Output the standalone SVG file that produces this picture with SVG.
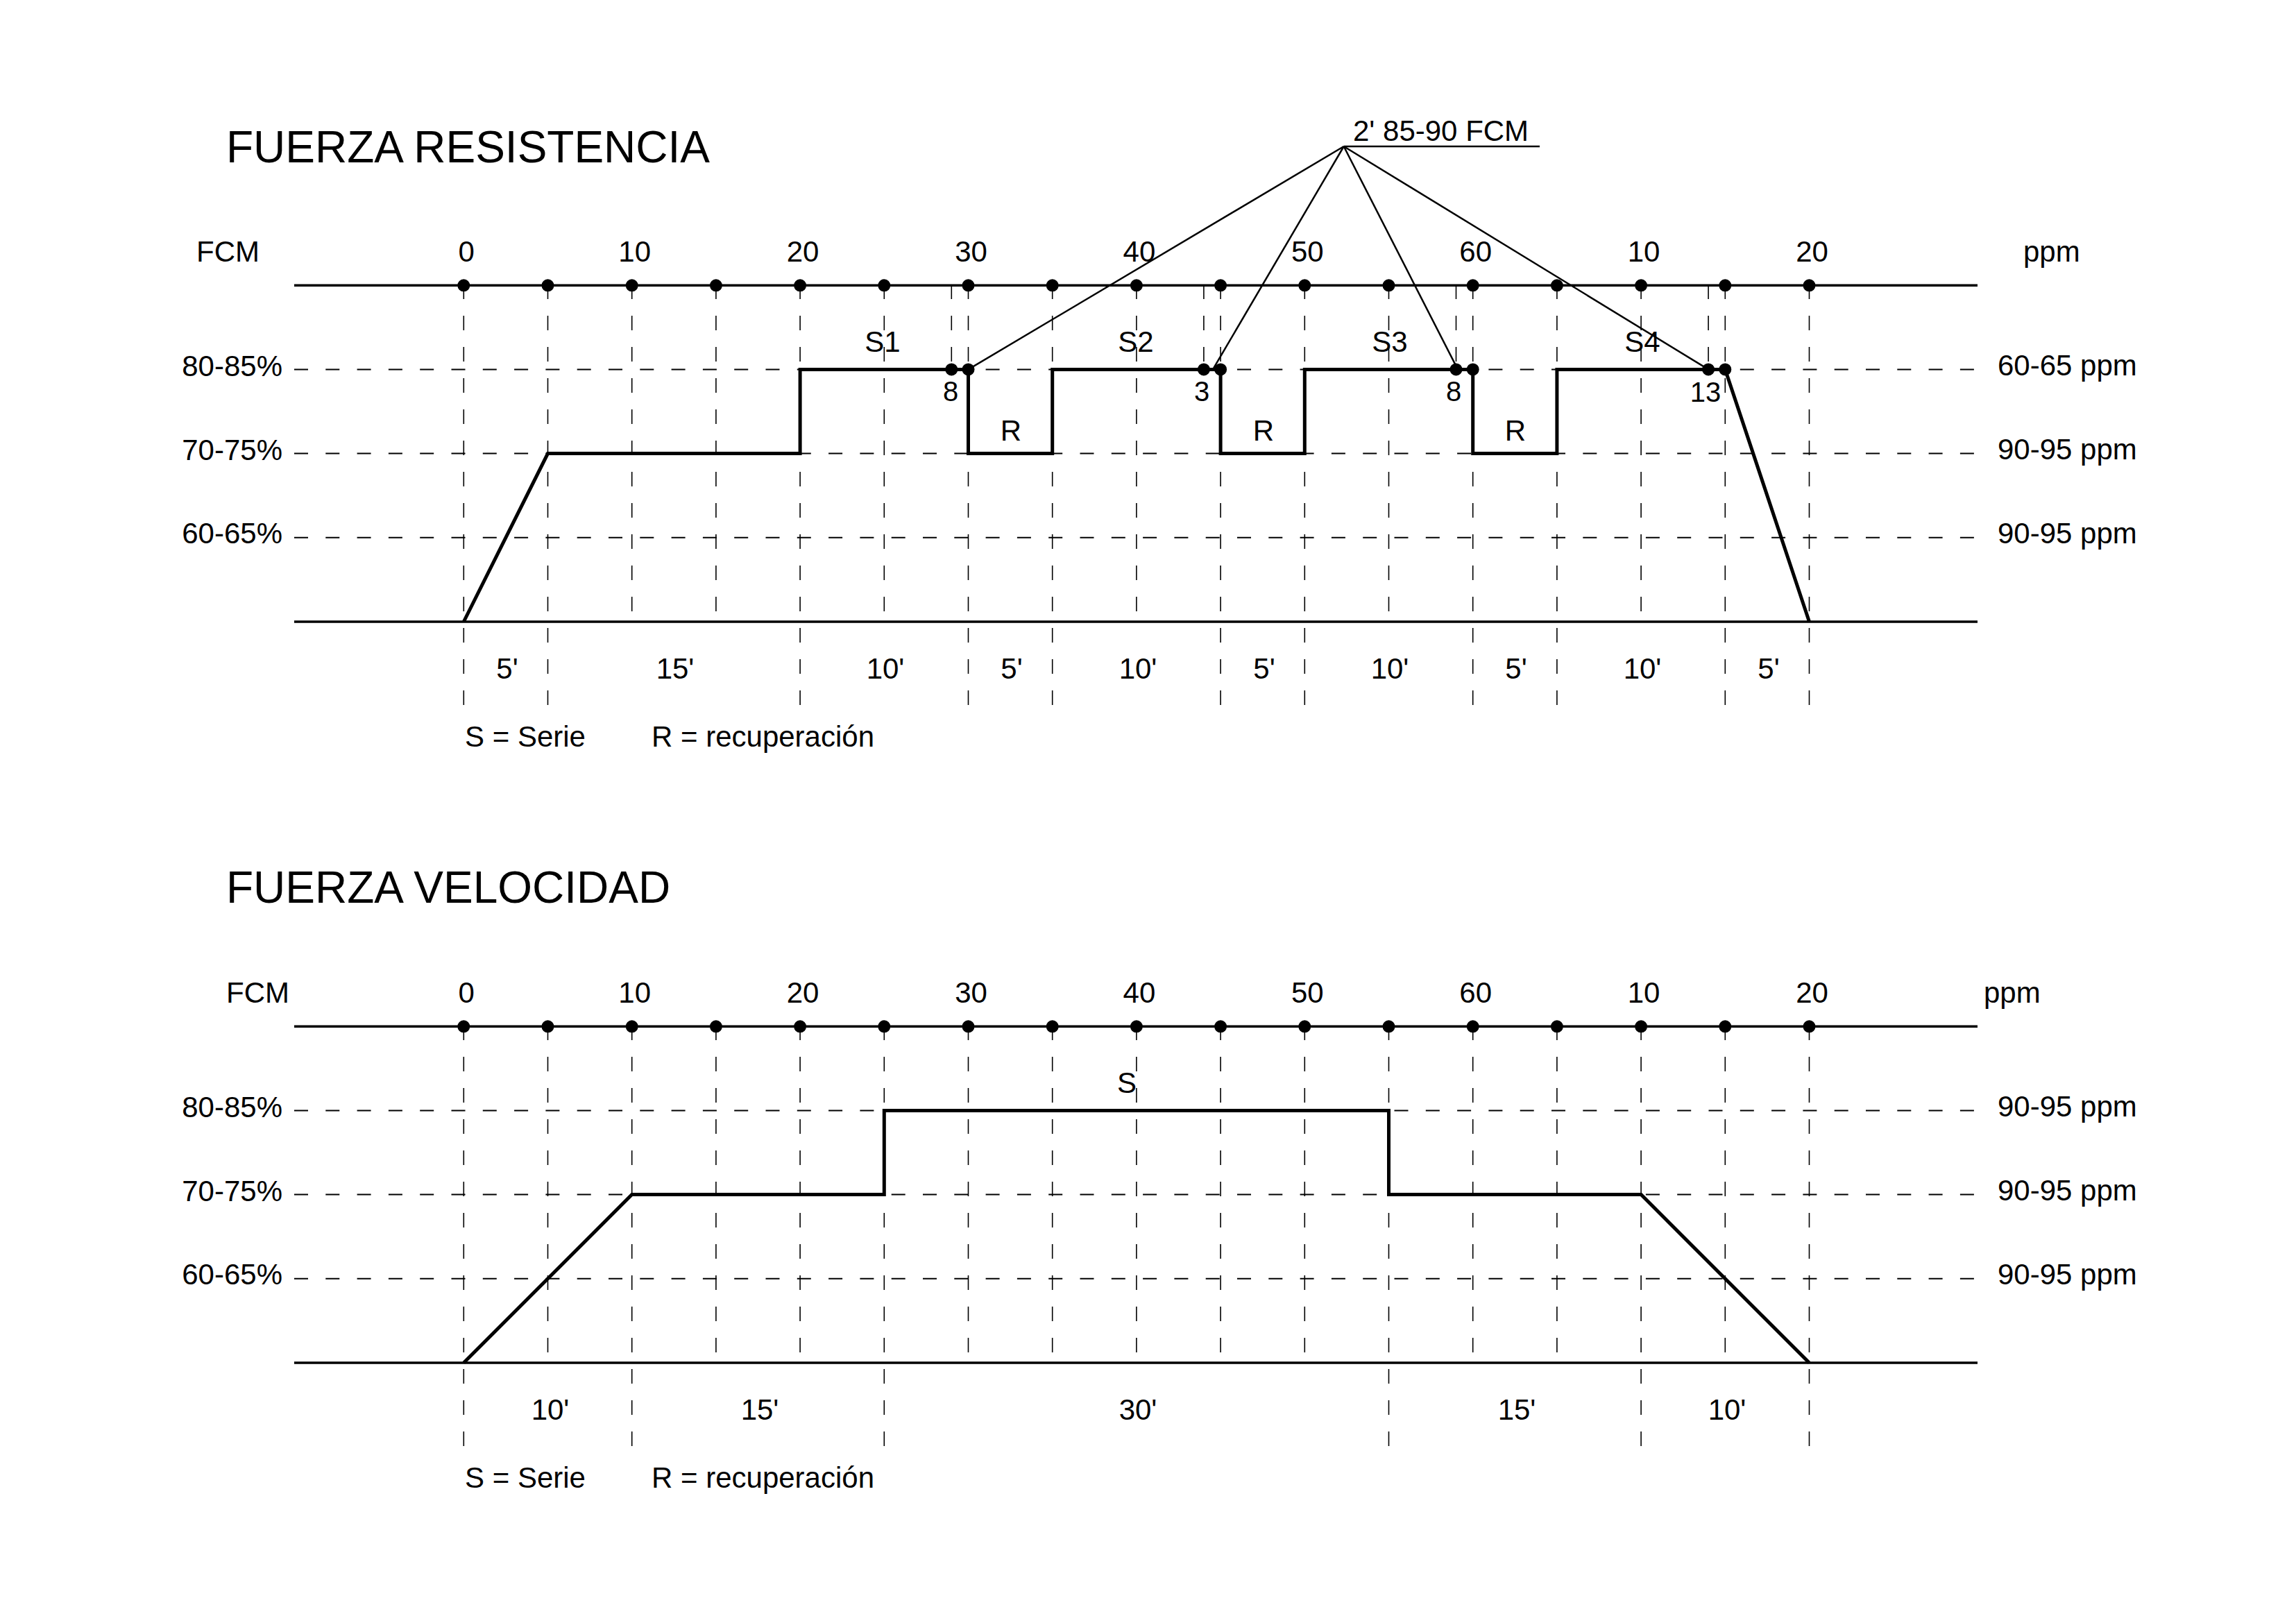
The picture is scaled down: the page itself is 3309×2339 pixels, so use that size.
<svg xmlns="http://www.w3.org/2000/svg" width="3309" height="2339" viewBox="0 0 3309 2339">
<style>
text{font-family:"Liberation Sans",Arial,Helvetica,sans-serif;fill:#000;font-size:42px}
.title{font-size:64px}
.sm{font-size:40px}
.mid{text-anchor:middle}
.end{text-anchor:end}
.axis{stroke:#000;stroke-width:3.5;fill:none}
.hd{stroke:#000;stroke-width:2;stroke-dasharray:20 25.3;fill:none}
.vd{stroke:#000;stroke-width:1.6;stroke-dasharray:21 24;fill:none}
.prof{stroke:#000;stroke-width:5;fill:none;stroke-linejoin:miter}
.lead{stroke:#000;stroke-width:2.5;fill:none}
.dot{fill:#000}
</style>
<defs>
<circle id="d" r="9" class="dot"/>
</defs>
<rect width="3309" height="2339" fill="#fff"/>

<!-- ============ CHART 1: FUERZA RESISTENCIA ============ -->
<g id="chart-resistencia">
  <text id="title1" class="title" x="326" y="234">FUERZA RESISTENCIA</text>
  <g id="grid1">
    <line class="hd" x1="424" y1="532.4" x2="2850" y2="532.4"/>
    <line class="hd" x1="424" y1="653.6" x2="2850" y2="653.6"/>
    <line class="hd" x1="424" y1="774.8" x2="2850" y2="774.8"/>
    <!-- verticals extending below baseline -->
    <path class="vd" d="M668.3,410V1018M789.5,410V1018M1153.1,410V1018M1395.5,410V1018M1516.7,410V1018M1759.1,410V1018M1880.3,410V1018M2122.7,410V1018M2243.9,410V1018M2486.3,410V1018M2607.5,410V1018"/>
    <!-- verticals ending at baseline -->
    <path class="vd" d="M910.7,410V896M1031.9,410V896M1274.3,410V896M1637.9,410V896M2001.5,410V896M2365.1,410V896"/>
    <!-- short verticals to 80-85% -->
    <path class="vd" d="M1371.3,410V532M1734.9,410V532M2098.5,410V532M2462.1,410V532"/>
  </g>
  <g id="axes1">
    <line class="axis" x1="424" y1="411.3" x2="2850" y2="411.3"/>
    <line class="axis" x1="424" y1="896" x2="2850" y2="896"/>
  </g>
  <g id="profile1">
    <path class="prof" d="M668.3,896L789.5,653.6H1153.1V532.4H1395.5V653.6H1516.7V532.4H1759.1V653.6H1880.3V532.4H2122.7V653.6H2243.9V532.4H2486.3L2607.5,896"/>
  </g>
  <g id="connectors1">
    <line class="lead" x1="1936.7" y1="211" x2="2219" y2="211"/>
    <line class="lead" x1="1936.7" y1="211" x2="1395.5" y2="532.4"/>
    <line class="lead" x1="1936.7" y1="211" x2="1748" y2="532.4"/>
    <line class="lead" x1="1936.7" y1="211" x2="2101" y2="532.4"/>
    <line class="lead" x1="1936.7" y1="211" x2="2462.1" y2="532.4"/>
  </g>
  <g id="dots1">
    <use href="#d" x="668.3" y="411.3"/><use href="#d" x="789.5" y="411.3"/><use href="#d" x="910.7" y="411.3"/><use href="#d" x="1031.9" y="411.3"/><use href="#d" x="1153.1" y="411.3"/><use href="#d" x="1274.3" y="411.3"/><use href="#d" x="1395.5" y="411.3"/><use href="#d" x="1516.7" y="411.3"/><use href="#d" x="1637.9" y="411.3"/><use href="#d" x="1759.1" y="411.3"/><use href="#d" x="1880.3" y="411.3"/><use href="#d" x="2001.5" y="411.3"/><use href="#d" x="2122.7" y="411.3"/><use href="#d" x="2243.9" y="411.3"/><use href="#d" x="2365.1" y="411.3"/><use href="#d" x="2486.3" y="411.3"/><use href="#d" x="2607.5" y="411.3"/>
    <use href="#d" x="1371.3" y="532.4"/><use href="#d" x="1395.5" y="532.4"/>
    <use href="#d" x="1734.9" y="532.4"/><use href="#d" x="1759.1" y="532.4"/>
    <use href="#d" x="2098.5" y="532.4"/><use href="#d" x="2122.7" y="532.4"/>
    <use href="#d" x="2462.1" y="532.4"/><use href="#d" x="2486.3" y="532.4"/>
  </g>
  <g id="labels1">
    <text x="1950" y="203">2' 85-90 FCM</text>
    <text x="283" y="377">FCM</text>
    <text x="2916" y="377">ppm</text>
    <text class="mid" x="672.3" y="377">0</text>
    <text class="mid" x="914.7" y="377">10</text>
    <text class="mid" x="1157.1" y="377">20</text>
    <text class="mid" x="1399.5" y="377">30</text>
    <text class="mid" x="1641.9" y="377">40</text>
    <text class="mid" x="1884.3" y="377">50</text>
    <text class="mid" x="2126.7" y="377">60</text>
    <text class="mid" x="2369.1" y="377">10</text>
    <text class="mid" x="2611.5" y="377">20</text>
    <text class="end" x="407" y="542">80-85%</text>
    <text class="end" x="407" y="663">70-75%</text>
    <text class="end" x="407" y="783">60-65%</text>
    <text x="2879" y="541">60-65 ppm</text>
    <text x="2879" y="662">90-95 ppm</text>
    <text x="2879" y="783">90-95 ppm</text>
    <text class="mid" x="1272" y="507">S1</text>
    <text class="mid" x="1637" y="507">S2</text>
    <text class="mid" x="2003" y="507">S3</text>
    <text class="mid" x="2367" y="507">S4</text>
    <text class="mid" x="1457" y="635">R</text>
    <text class="mid" x="1821" y="635">R</text>
    <text class="mid" x="2184" y="635">R</text>
    <text class="mid sm" x="1370" y="578">8</text>
    <text class="mid sm" x="1732" y="578">3</text>
    <text class="mid sm" x="2095" y="578">8</text>
    <text class="mid sm" x="2458" y="579">13</text>
    <text class="mid" x="731" y="978">5'</text>
    <text class="mid" x="973" y="978">15'</text>
    <text class="mid" x="1276" y="978">10'</text>
    <text class="mid" x="1458" y="978">5'</text>
    <text class="mid" x="1640" y="978">10'</text>
    <text class="mid" x="1822" y="978">5'</text>
    <text class="mid" x="2003" y="978">10'</text>
    <text class="mid" x="2185" y="978">5'</text>
    <text class="mid" x="2367" y="978">10'</text>
    <text class="mid" x="2549" y="978">5'</text>
    <text x="670" y="1076">S = Serie</text>
    <text x="939" y="1076">R = recuperación</text>
  </g>
</g>

<!-- ============ CHART 2: FUERZA VELOCIDAD ============ -->
<g id="chart-velocidad">
  <text id="title2" class="title" x="326" y="1301">FUERZA VELOCIDAD</text>
  <g id="grid2">
    <line class="hd" x1="424" y1="1600.4" x2="2850" y2="1600.4"/>
    <line class="hd" x1="424" y1="1721.6" x2="2850" y2="1721.6"/>
    <line class="hd" x1="424" y1="1842.8" x2="2850" y2="1842.8"/>
    <path class="vd" d="M668.3,1478V2086M910.7,1478V2086M1274.3,1478V2086M2001.5,1478V2086M2365.1,1478V2086M2607.5,1478V2086"/>
    <path class="vd" d="M789.5,1478V1964M1031.9,1478V1964M1153.1,1478V1964M1395.5,1478V1964M1516.7,1478V1964M1637.9,1478V1964M1759.1,1478V1964M1880.3,1478V1964M2122.7,1478V1964M2243.9,1478V1964M2486.3,1478V1964"/>
  </g>
  <g id="axes2">
    <line class="axis" x1="424" y1="1479.3" x2="2850" y2="1479.3"/>
    <line class="axis" x1="424" y1="1964" x2="2850" y2="1964"/>
  </g>
  <g id="profile2">
    <path class="prof" d="M668.3,1964L910.7,1721.6H1274.3V1600.4H2001.5V1721.6H2365.1L2607.5,1964"/>
  </g>
  <g id="dots2">
    <use href="#d" x="668.3" y="1479.3"/><use href="#d" x="789.5" y="1479.3"/><use href="#d" x="910.7" y="1479.3"/><use href="#d" x="1031.9" y="1479.3"/><use href="#d" x="1153.1" y="1479.3"/><use href="#d" x="1274.3" y="1479.3"/><use href="#d" x="1395.5" y="1479.3"/><use href="#d" x="1516.7" y="1479.3"/><use href="#d" x="1637.9" y="1479.3"/><use href="#d" x="1759.1" y="1479.3"/><use href="#d" x="1880.3" y="1479.3"/><use href="#d" x="2001.5" y="1479.3"/><use href="#d" x="2122.7" y="1479.3"/><use href="#d" x="2243.9" y="1479.3"/><use href="#d" x="2365.1" y="1479.3"/><use href="#d" x="2486.3" y="1479.3"/><use href="#d" x="2607.5" y="1479.3"/>
  </g>
  <g id="labels2">
    <text x="326" y="1445">FCM</text>
    <text x="2859" y="1445">ppm</text>
    <text class="mid" x="672.3" y="1445">0</text>
    <text class="mid" x="914.7" y="1445">10</text>
    <text class="mid" x="1157.1" y="1445">20</text>
    <text class="mid" x="1399.5" y="1445">30</text>
    <text class="mid" x="1641.9" y="1445">40</text>
    <text class="mid" x="1884.3" y="1445">50</text>
    <text class="mid" x="2126.7" y="1445">60</text>
    <text class="mid" x="2369.1" y="1445">10</text>
    <text class="mid" x="2611.5" y="1445">20</text>
    <text class="end" x="407" y="1610">80-85%</text>
    <text class="end" x="407" y="1731">70-75%</text>
    <text class="end" x="407" y="1851">60-65%</text>
    <text x="2879" y="1609">90-95 ppm</text>
    <text x="2879" y="1730">90-95 ppm</text>
    <text x="2879" y="1851">90-95 ppm</text>
    <text class="mid" x="1624" y="1575">S</text>
    <text class="mid" x="793" y="2046">10'</text>
    <text class="mid" x="1095" y="2046">15'</text>
    <text class="mid" x="1640" y="2046">30'</text>
    <text class="mid" x="2186" y="2046">15'</text>
    <text class="mid" x="2489" y="2046">10'</text>
    <text x="670" y="2144">S = Serie</text>
    <text x="939" y="2144">R = recuperación</text>
  </g>
</g>
</svg>
